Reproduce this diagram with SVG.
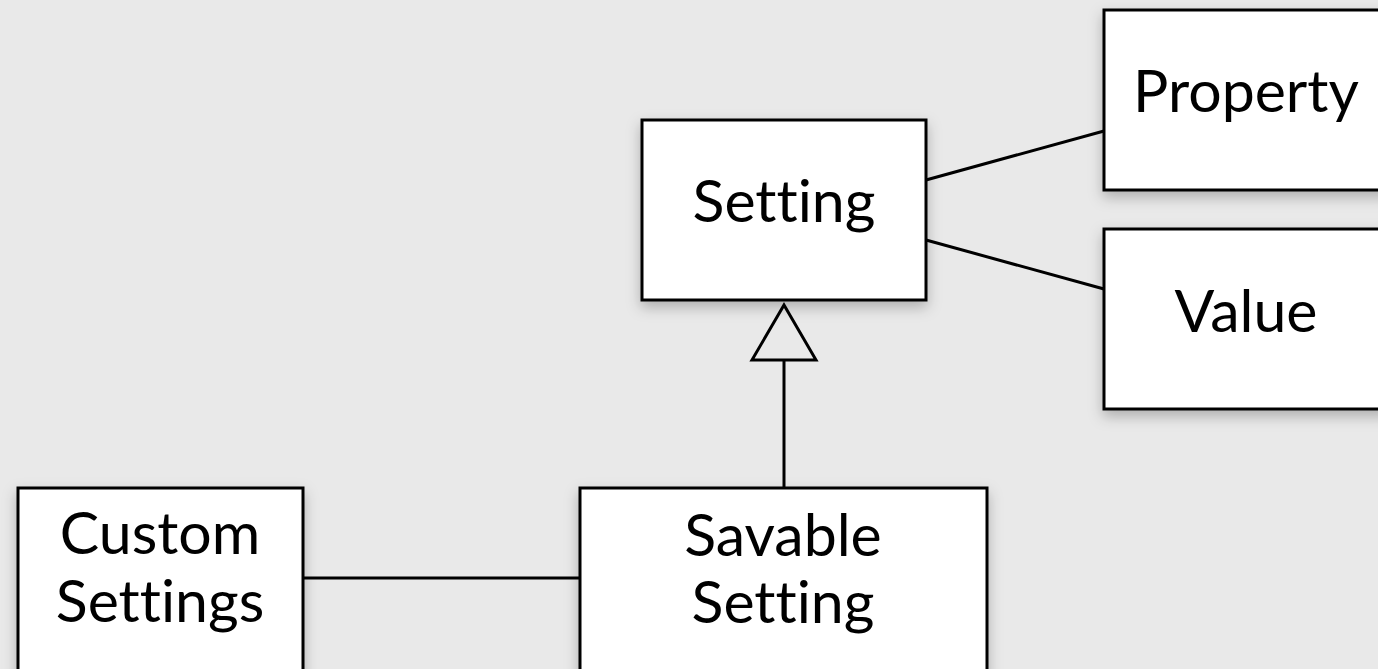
<svg xmlns="http://www.w3.org/2000/svg" width="1378" height="669" viewBox="0 0 1378 669">
<style>
.box{fill:#ffffff;stroke:#000000;stroke-width:3;filter:url(#sh)}
.lbl{font-family:Lato,"Open Sans","Liberation Sans",sans-serif;font-size:59px;fill:#000000;text-anchor:middle;font-variant-ligatures:none;font-feature-settings:"liga" 0}
.conn{stroke:#000000;stroke-width:3;fill:none}
</style>
<defs>
<filter id="sh" x="-20%" y="-20%" width="140%" height="150%">
<feDropShadow dx="0" dy="6" stdDeviation="7" flood-color="#000000" flood-opacity="0.25"/>
</filter>
</defs>
<rect x="0" y="0" width="1378" height="669" fill="#e9e9e9"/>
<g id="connectors">
<line class="conn" x1="926" y1="180" x2="1104" y2="131"/>
<line class="conn" x1="926" y1="240" x2="1104" y2="289"/>
<line class="conn" x1="303" y1="578" x2="580" y2="578"/>
<line class="conn" x1="784" y1="360" x2="784" y2="488"/>
<polygon class="conn" points="784,305 816,360 752,360" style="fill:#e9e9e9"/>
</g>
<g id="setting">
<rect class="box" x="642" y="120" width="284" height="180"/>
<text class="lbl" x="784" y="222">Setting</text>
</g>
<g id="property">
<rect class="box" x="1104" y="10" width="284" height="180"/>
<text class="lbl" x="1246" y="112">Property</text>
</g>
<g id="value">
<rect class="box" x="1104" y="229" width="284" height="180"/>
<text class="lbl" x="1246" y="332">Value</text>
</g>
<g id="custom-settings">
<rect class="box" x="18" y="488" width="285" height="190"/>
<text class="lbl" x="160" y="554">Custom</text>
<text class="lbl" x="160" y="622">Settings</text>
</g>
<g id="savable-setting">
<rect class="box" x="580" y="488" width="407" height="190"/>
<text class="lbl" x="783" y="556">Savable</text>
<text class="lbl" x="783" y="623">Setting</text>
</g>
</svg>
